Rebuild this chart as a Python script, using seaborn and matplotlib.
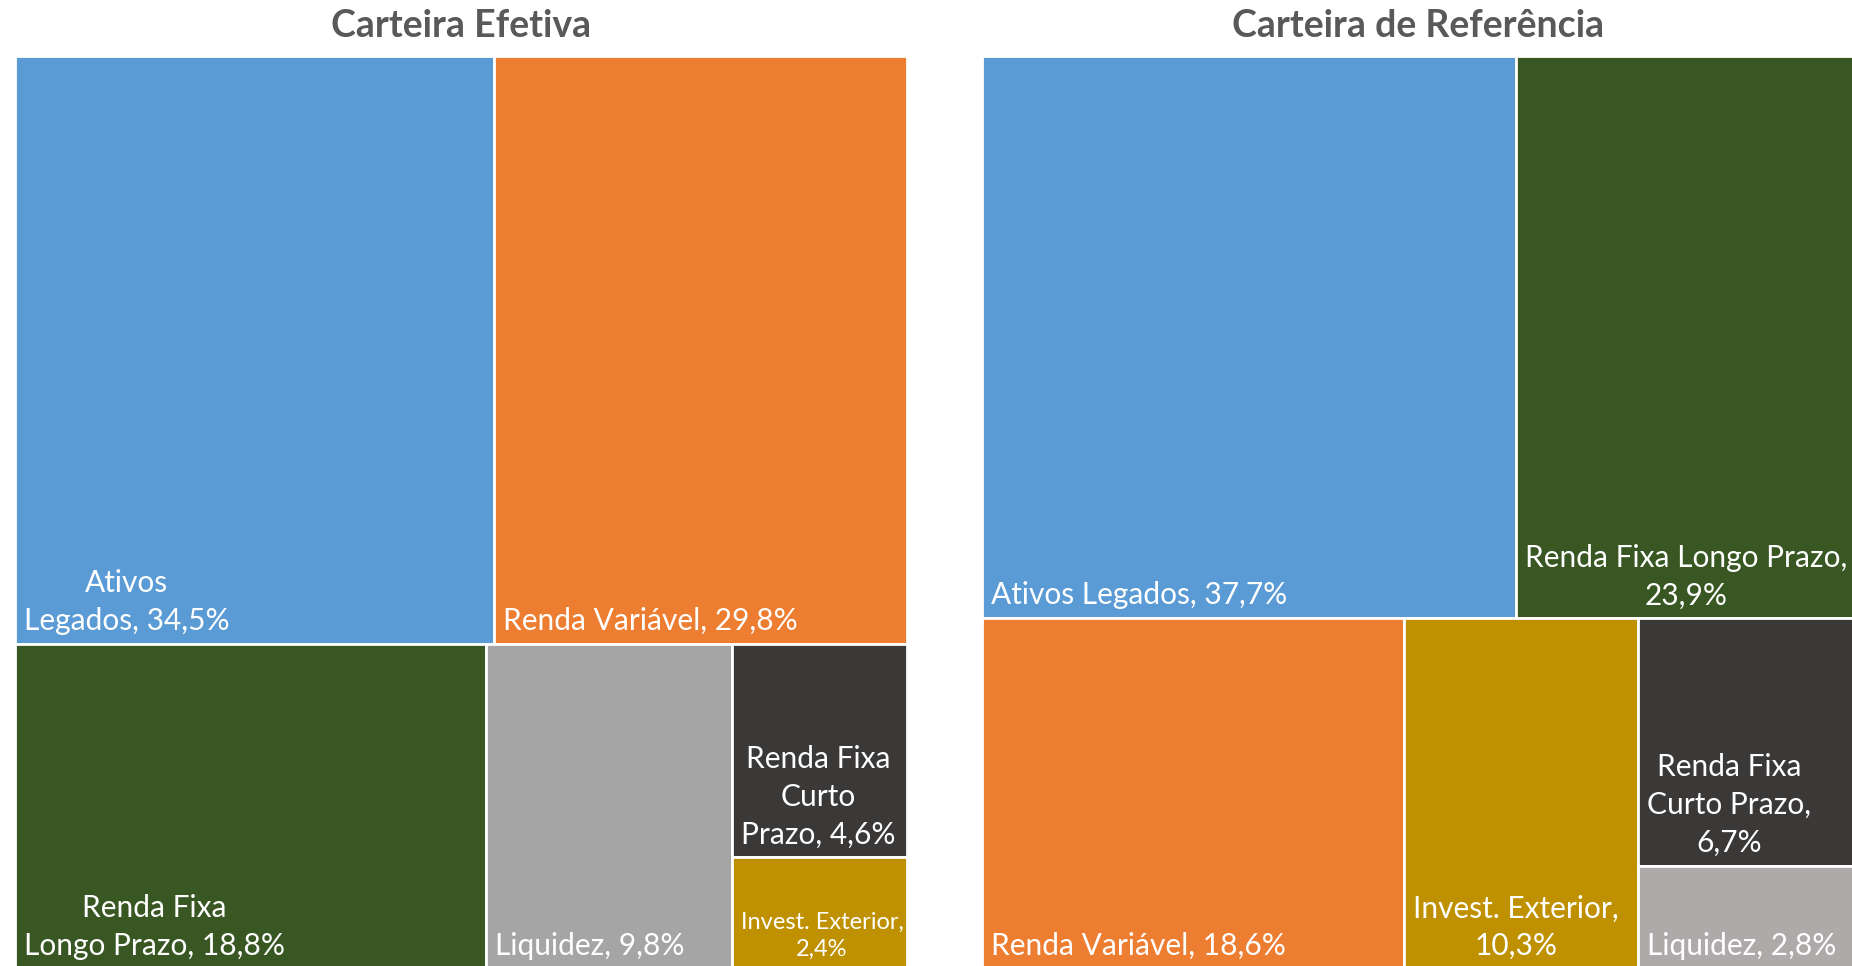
import matplotlib
matplotlib.use("Agg")
import matplotlib.pyplot as plt
from matplotlib.patches import Rectangle
import seaborn as sns

# Carteira Efetiva (already sorted, largest first)
efetiva_labels = [
    "Ativos\nLegados, 34,5%",
    "Renda Variável, 29,8%",
    "Renda Fixa\nLongo Prazo, 18,8%",
    "Liquidez, 9,8%",
    "Renda Fixa\nCurto\nPrazo, 4,6%",
    "Invest. Exterior,\n2,4%",
]
efetiva_values = [34.5, 29.8, 18.8, 9.8, 4.6, 2.4]

# Carteira de Referência
referencia_labels = [
    "Ativos Legados, 37,7%",
    "Renda Fixa Longo Prazo,\n23,9%",
    "Renda Variável, 18,6%",
    "Invest. Exterior,\n10,3%",
    "Renda Fixa\nCurto Prazo,\n6,7%",
    "Liquidez, 2,8%",
]
referencia_values = [37.7, 23.9, 18.6, 10.3, 6.7, 2.8]

efetiva_colors = ["#5B9BD5", "#ED7D31", "#385723", "#A5A5A5", "#3B3838", "#BF9000"]
referencia_colors = ["#5B9BD5", "#385723", "#ED7D31", "#BF9000", "#3B3838", "#AEAAAA"]

W_PX, H_PX = 1852, 966


def worst(row, side):
    s = sum(row)
    return max(max(side ** 2 * r / s ** 2, s ** 2 / (side ** 2 * r)) for r in row)


def squarify(values, x, y, w, h):
    """Squarified treemap layout, y grows downwards"""
    total = sum(values)
    vals = [v * w * h / total for v in values]
    rects = []
    while vals:
        side = min(w, h)
        row = [vals.pop(0)]
        while vals and worst(row + [vals[0]], side) <= worst(row, side):
            row.append(vals.pop(0))
        s = sum(row)
        if w >= h:
            cw = s / h
            cy = y
            for r in row:
                rects.append((x, cy, cw, r / cw))
                cy += r / cw
            x += cw
            w -= cw
        else:
            rh = s / w
            cx = x
            for r in row:
                rects.append((cx, y, r / rh, rh))
                cx += r / rh
            y += rh
            h -= rh
    return rects


def draw_treemap(fig, frame, title, labels, values, colors):
    x0, y0, w, h = frame
    ax = fig.add_axes([x0 / W_PX, 1 - (y0 + h) / H_PX, w / W_PX, h / H_PX])
    ax.set_xlim(0, w)
    ax.set_ylim(h, 0)
    ax.set_axis_off()

    for (rx, ry, rw, rh), lab, col in zip(squarify(values, 0, 0, w, h), labels, colors):
        ax.add_patch(Rectangle((rx, ry), rw, rh, facecolor=col,
                               edgecolor="white", linewidth=2))
        small = rw < 200 and "Invest" in lab
        ax.text(rx + 9, ry + rh - 9, lab, color="white",
                fontsize=17 if small else 21.5,
                ha="left", va="bottom", multialignment="center",
                linespacing=1.38 if small else 1.42)

    fig.text((x0 + w / 2) / W_PX, 1 - 37 / H_PX, title, ha="center",
             va="baseline", fontsize=27, fontweight="bold", color="#595959")


def main():
    sns.set_theme(style="white")
    plt.rcParams["font.family"] = ["Lato", "DejaVu Sans"]

    fig = plt.figure(figsize=(W_PX / 100, H_PX / 100), dpi=100)
    draw_treemap(fig, (15, 56, 892, 913), "Carteira Efetiva",
                 efetiva_labels, efetiva_values, efetiva_colors)
    draw_treemap(fig, (982, 56, 872, 913), "Carteira de Referência",
                 referencia_labels, referencia_values, referencia_colors)
    fig.savefig("out.png", dpi=100)


if __name__ == "__main__":
    main()
